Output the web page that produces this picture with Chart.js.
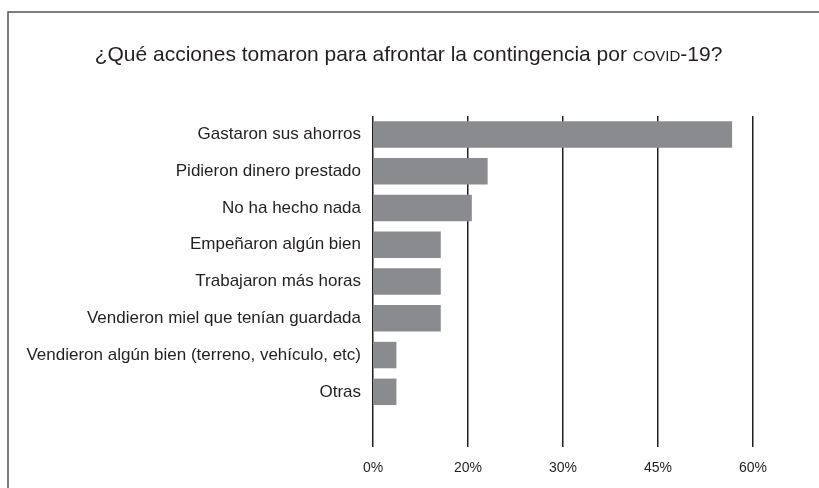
<!DOCTYPE html>
<html>
<head>
<meta charset="utf-8">
<script src="https://cdn.jsdelivr.net/npm/chart.js@4/dist/chart.umd.min.js"></script>
<style>
    body { margin: 0; background: #fff; }
    #wrap { position: relative; width: 819px; height: 488px; overflow: hidden; }
    #chart { position: absolute; left: 0; top: 0; }
    #title {
        position: absolute; left: 0; top: 42px; width: 817px;
        text-align: center; font-family: "Liberation Sans", Arial, sans-serif;
        font-size: 21px; color: #231f20; white-space: nowrap;
    }
    #title span { font-variant: small-caps; }
</style>
</head>
<body>
<div id="wrap">
    <canvas id="chart" width="819" height="488"></canvas>
    <div id="title">¿Qué acciones tomaron para afrontar la contingencia por <span>covid</span>-19?</div>
</div>
<script>
// acciones ante la contingencia
var categories = [
    "Gastaron sus ahorros",
    "Pidieron dinero prestado",
    "No ha hecho nada",
    "Empeñaron algún bien",
    "Trabajaron más horas",
    "Vendieron miel que tenían guardada",
    "Vendieron algún bien (terreno, vehículo, etc)",
    "Otras",
    ""
];
var values = [56.7, 18.1, 15.6, 10.7, 10.7, 10.7, 3.7, 3.7, null];
var tickLabels = ["0%", "20%", "30%", "45%", "60%"];

var ink = "#231f20";

// marco del gráfico
var framePlugin = {
    id: "frame",
    beforeDraw: function(chart){
        var ctx = chart.ctx;
        ctx.save();
        ctx.strokeStyle = "#555";
        ctx.lineWidth = 1.5;
        ctx.strokeRect(8, 12, 900, 600);
        ctx.restore();
    }
};

var ctx = document.getElementById("chart").getContext("2d");
var myChart = new Chart(ctx, {
    type: "bar",
    data: {
        labels: categories,
        datasets: [{
            data: values,
            backgroundColor: "#8a8b8f",
            borderWidth: 0,
            barPercentage: 0.72,
            categoryPercentage: 1
        }]
    },
    options: {
        indexAxis: "y",
        animation: false,
        responsive: false,
        layout: { padding: { left: 0, top: 116, right: 66, bottom: 0 } },
        plugins: {
            legend: { display: false },
            tooltip: { enabled: false }
        },
        scales: {
            x: {
                min: 0,
                max: 60,
                ticks: {
                    stepSize: 15,
                    padding: 13,
                    color: ink,
                    font: { family: "Liberation Sans", size: 14 },
                    callback: function(v, i){ return tickLabels[i]; }
                },
                grid: { color: ink, lineWidth: 1.5, drawTicks: false },
                border: { display: false },
                afterFit: function(scale){ scale.height = 41; }
            },
            y: {
                ticks: {
                    padding: 12,
                    color: ink,
                    font: { family: "Liberation Sans", size: 17 }
                },
                grid: { display: false, drawTicks: false },
                border: { display: false },
                afterFit: function(scale){ scale.width = 373; }
            }
        }
    },
    plugins: [framePlugin]
});
</script>
</body>
</html>
